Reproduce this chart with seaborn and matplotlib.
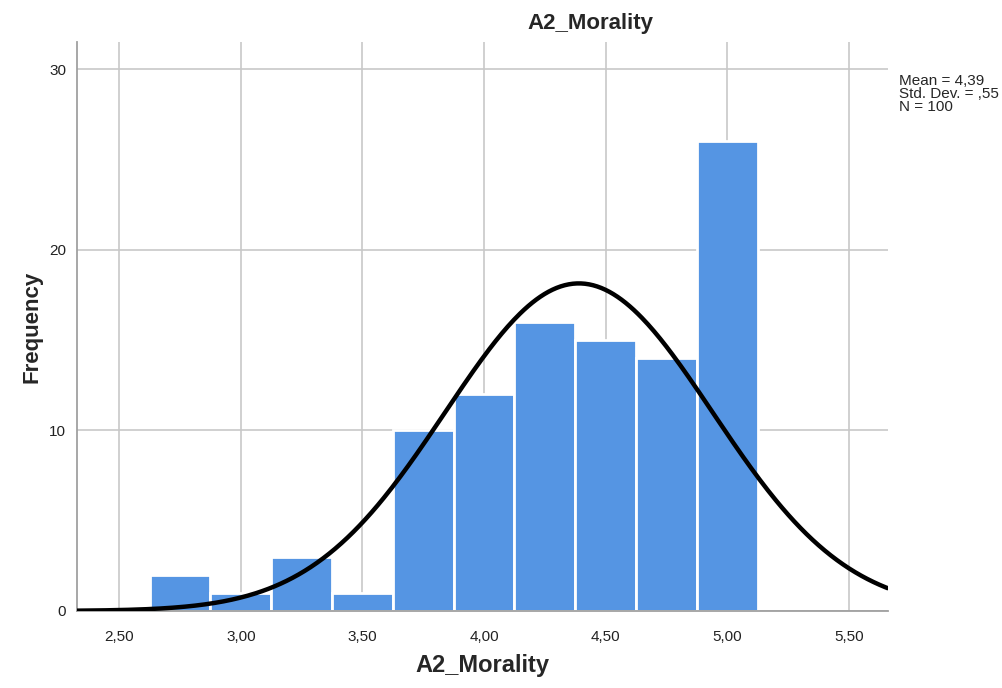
import numpy as np
import pandas as pd
import seaborn as sns
from matplotlib import pyplot as plt

# bin centres and counts
bin_centers = [2.75, 3.00, 3.25, 3.50, 3.75, 4.00, 4.25, 4.50, 4.75, 5.00]
counts = [2, 1, 3, 1, 10, 12, 16, 15, 14, 26]
bin_width = 0.25
mean, sd, n = 4.39, 0.55, 100
x_ticks = [2.5, 3.0, 3.5, 4.0, 4.5, 5.0, 5.5]
x_labels = ['2,50', '3,00', '3,50', '4,00', '4,50', '5,00', '5,50']
y_ticks = [0, 10, 20, 30]

sns.set_style('white')
plt.rcParams['font.family'] = ['Liberation Sans', 'DejaVu Sans']

df = pd.DataFrame({'A2_Morality': bin_centers, 'count': counts})
edges = list(bin_centers[0] - bin_width / 2 + bin_width * np.arange(len(bin_centers) + 1))

fig = plt.figure(figsize=(10.03, 6.88), dpi=100)
ax = fig.add_axes([0.077, 0.112, 0.808, 0.827])

sns.histplot(data=df, x='A2_Morality', weights='count', bins=edges, color='#5595e3',
             alpha=1, edgecolor='white', linewidth=2, ax=ax, zorder=2)

x_lo, x_hi = 2.327, 5.66
xs = np.linspace(x_lo, x_hi, 400)
ys = n * bin_width * np.exp(-0.5 * ((xs - mean) / sd) ** 2) / (sd * np.sqrt(2 * np.pi))
sns.lineplot(x=xs, y=ys, color='black', linewidth=3.2, ax=ax, zorder=3)

ax.set_xlim(x_lo, x_hi)
ax.set_ylim(0, 31.5)
ax.set_xticks(x_ticks)
ax.set_xticklabels(x_labels, fontsize=11)
ax.set_yticks(y_ticks)
ax.set_yticklabels([str(v) for v in y_ticks], fontsize=11)
ax.grid(True, color='#c8c8c8', linewidth=1.2, zorder=0)
ax.set_axisbelow(True)
for s in ['top', 'right']:
    ax.spines[s].set_visible(False)
for s in ['left', 'bottom']:
    ax.spines[s].set_color('#a0a0a0')
    ax.spines[s].set_linewidth(1.3)
ax.tick_params(axis='x', length=0, pad=14, colors='#222222')
ax.tick_params(axis='y', length=0, pad=8, colors='#222222')

ax.set_xlabel('A2_Morality', fontsize=17, fontweight='bold', labelpad=7)
ax.set_ylabel('Frequency', fontsize=16, fontweight='bold', labelpad=5)
fig.text(590 / 1003, 1 - 24 / 688, 'A2_Morality', ha='center', va='center',
         fontsize=16, fontweight='bold')
fig.text(899 / 1003, 1 - 94 / 688, 'Mean = 4,39\nStd. Dev. = ,55\nN = 100',
         ha='left', va='center', fontsize=11, linespacing=0.95)

fig.savefig('out.png', dpi=100)
